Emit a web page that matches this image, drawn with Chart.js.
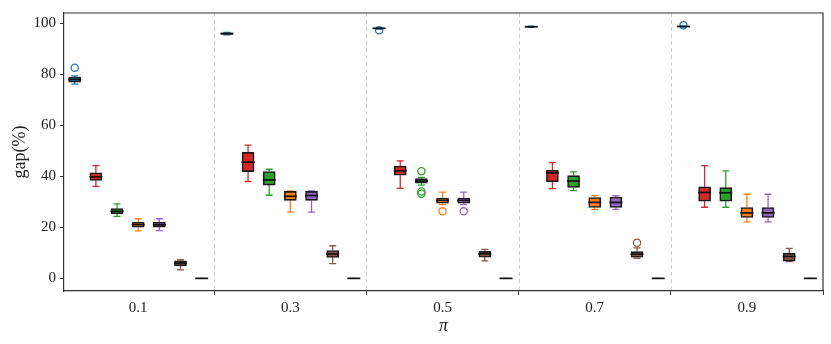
<!DOCTYPE html>
<html>
<head>
<meta charset="utf-8">
<script src="https://cdn.jsdelivr.net/npm/chart.js@4.4.1/dist/chart.umd.min.js"></script>
<style>
  html, body { margin: 0; padding: 0; background: #fff; }
  #wrap { width: 831px; height: 344px; }
</style>
</head>
<body>
<div id="wrap"><canvas id="chart"></canvas></div>
<script>
const piValues = [0.1, 0.3, 0.5, 0.7, 0.9];
const dividers = [0.2, 0.4, 0.6, 0.8];
const yTicks = [0, 20, 40, 60, 80, 100];

// [whisker low, q1, median, q3, whisker high] for each pi
const blueStats   = [[76.2, 77.0, 78.0, 79.0, 79.4], [95.5, 95.7, 96.0, 96.3, 96.5], [97.8, 98.0, 98.1, 98.2, 98.3], [98.5, 98.6, 98.7, 98.8, 98.9], [98.6, 98.7, 98.8, 98.9, 99.0]];
const redStats    = [[36.1, 38.4, 39.8, 41.4, 44.2], [38.0, 41.9, 45.6, 49.4, 52.3], [35.3, 40.5, 42.2, 44.1, 46.1], [35.2, 37.9, 41.4, 42.4, 45.4], [27.9, 30.3, 33.7, 35.9, 44.2]];
const greenStats  = [[24.3, 25.3, 26.3, 27.4, 29.2], [32.6, 36.6, 38.6, 41.9, 42.8], [36.6, 37.3, 38.2, 39.1, 39.6], [34.4, 35.7, 38.2, 40.3, 41.8], [27.9, 30.3, 33.6, 35.6, 42.2]];
const orangeStats = [[18.6, 20.1, 21.1, 22.0, 23.4], [26.0, 30.6, 32.2, 34.1, 34.3], [28.9, 29.5, 30.6, 31.5, 33.8], [27.1, 27.8, 29.8, 31.7, 32.5], [22.2, 23.9, 25.7, 27.8, 33.0]];
const purpleStats = [[18.7, 20.1, 21.0, 22.0, 23.4], [26.0, 30.6, 32.5, 34.1, 34.3], [28.9, 29.5, 30.6, 31.5, 33.8], [27.1, 27.8, 29.8, 31.9, 32.5], [22.2, 23.9, 25.7, 27.8, 33.0]];
const brownStats  = [[3.3, 4.9, 6.0, 6.9, 7.3], [5.8, 8.2, 9.6, 10.9, 12.8], [6.9, 8.3, 9.6, 10.6, 11.4], [7.9, 8.3, 9.5, 10.5, 12.0], [6.6, 6.8, 8.6, 9.9, 11.8]];
const pinkStats   = [[0, 0, 0, 0, 0], [0, 0, 0, 0, 0], [0, 0, 0, 0, 0], [0, 0, 0, 0, 0], [0, 0, 0, 0, 0]];

// [pi, value]
const blueOutliers   = [[0.1, 82.6], [0.5, 97.3], [0.9, 99.3]];
const greenOutliers  = [[0.5, 42.0], [0.5, 34.1], [0.5, 33.2]];
const orangeOutliers = [[0.5, 26.3]];
const purpleOutliers = [[0.5, 26.3]];
const brownOutliers  = [[0.7, 14.0]];

const series = [
  { color: '#1f77b4', stats: blueStats,   outliers: blueOutliers },
  { color: '#d62728', stats: redStats,    outliers: [] },
  { color: '#2ca02c', stats: greenStats,  outliers: greenOutliers },
  { color: '#ff7f0e', stats: orangeStats, outliers: orangeOutliers },
  { color: '#9467bd', stats: purpleStats, outliers: purpleOutliers },
  { color: '#8c564b', stats: brownStats,  outliers: brownOutliers },
  { color: '#e377c2', stats: pinkStats,   outliers: [] },
];

const step = 0.0278;
const offsetOf = (i) => (i - 3) * step;

const datasets = [];
series.forEach((s, i) => {
  datasets.push({
    type: 'bar',
    data: s.stats.map((st, j) => ({ x: piValues[j] + offsetOf(i), y: [st[1], st[3]] })),
    backgroundColor: s.color,
    borderColor: '#1a1a1a',
    borderWidth: 1.6,
    borderSkipped: false,
    barThickness: 12,
    grouped: false,
  });
});
series.forEach((s, i) => {
  if (!s.outliers.length) return;
  datasets.push({
    type: 'scatter',
    data: s.outliers.map(([p, v]) => ({ x: p + offsetOf(i), y: v })),
    pointStyle: 'circle',
    pointRadius: 3.6,
    borderWidth: 1.3,
    borderColor: s.color,
    backgroundColor: 'rgba(0,0,0,0)',
  });
});

const boxPlugin = {
  id: 'boxParts',
  beforeDatasetsDraw(chart) {
    const { ctx, chartArea, scales: { x, y } } = chart;
    ctx.save();
    // dashed group dividers
    ctx.strokeStyle = '#cccccc';
    ctx.lineWidth = 1;
    ctx.setLineDash([4, 3]);
    dividers.forEach((d) => {
      const px = Math.round(x.getPixelForValue(d)) + 0.5;
      ctx.beginPath();
      ctx.moveTo(px, chartArea.top);
      ctx.lineTo(px, chartArea.bottom);
      ctx.stroke();
    });
    ctx.setLineDash([]);
    // whiskers and caps
    ctx.lineWidth = 1.3;
    series.forEach((s, i) => {
      ctx.strokeStyle = s.color;
      s.stats.forEach((st, j) => {
        const cx = x.getPixelForValue(piValues[j] + offsetOf(i));
        const lo = y.getPixelForValue(st[0]);
        const q1 = y.getPixelForValue(st[1]);
        const q3 = y.getPixelForValue(st[3]);
        const hi = y.getPixelForValue(st[4]);
        ctx.beginPath();
        ctx.moveTo(cx, lo); ctx.lineTo(cx, q1);
        ctx.moveTo(cx, q3); ctx.lineTo(cx, hi);
        ctx.moveTo(cx - 3.5, lo); ctx.lineTo(cx + 3.5, lo);
        ctx.moveTo(cx - 3.5, hi); ctx.lineTo(cx + 3.5, hi);
        ctx.stroke();
      });
    });
    ctx.restore();
  },
  afterDatasetsDraw(chart) {
    const { ctx, chartArea, scales: { x, y } } = chart;
    ctx.save();
    // medians
    ctx.strokeStyle = '#111111';
    ctx.lineWidth = 1.7;
    series.forEach((s, i) => {
      s.stats.forEach((st, j) => {
        const cx = x.getPixelForValue(piValues[j] + offsetOf(i));
        const m = y.getPixelForValue(st[2]);
        ctx.beginPath();
        ctx.moveTo(cx - 6.5, m);
        ctx.lineTo(cx + 6.5, m);
        ctx.stroke();
      });
    });
    // top and right spines
    ctx.strokeStyle = '#333333';
    ctx.lineWidth = 1.2;
    ctx.beginPath();
    ctx.moveTo(chartArea.left, chartArea.top);
    ctx.lineTo(chartArea.right, chartArea.top);
    ctx.lineTo(chartArea.right, chartArea.bottom);
    ctx.stroke();
    ctx.restore();
  },
};

const tickFont = { family: 'Liberation Serif', size: 15 };

new Chart(document.getElementById('chart'), {
  type: 'bar',
  data: { datasets },
  plugins: [boxPlugin],
  options: {
    responsive: true,
    maintainAspectRatio: false,
    animation: false,
    layout: { padding: { top: 8, right: 8, left: 0, bottom: 0 } },
    plugins: { legend: { display: false }, tooltip: { enabled: false } },
    scales: {
      x: {
        type: 'linear',
        min: 0.0025,
        max: 1.0,
        offset: false,
        afterBuildTicks: (scale) => { scale.ticks = piValues.map((v) => ({ value: v })); },
        afterFit: (scale) => { scale.height = 53; },
        ticks: { color: '#222', font: tickFont, padding: 4, callback: (v) => v.toFixed(1) },
        grid: { drawOnChartArea: false, tickLength: 4, color: '#333', lineWidth: 1 },
        border: { color: '#333', width: 1.2 },
        title: { display: true, text: 'π', color: '#222', font: { family: 'Liberation Serif', size: 18, style: 'italic' }, padding: { top: 0, bottom: 7 } },
      },
      y: {
        min: -4.95,
        max: 104.1,
        afterBuildTicks: (scale) => { scale.ticks = yTicks.map((v) => ({ value: v })); },
        afterFit: (scale) => { scale.width = 64; },
        ticks: { color: '#222', font: tickFont, padding: 4 },
        grid: { drawOnChartArea: false, tickLength: 4, color: '#333', lineWidth: 1 },
        border: { color: '#333', width: 1.2 },
        title: { display: true, text: 'gap(%)', color: '#222', font: { family: 'Liberation Serif', size: 18 }, padding: { top: 9, bottom: 0 } },
      },
    },
  },
});
</script>
</body>
</html>
